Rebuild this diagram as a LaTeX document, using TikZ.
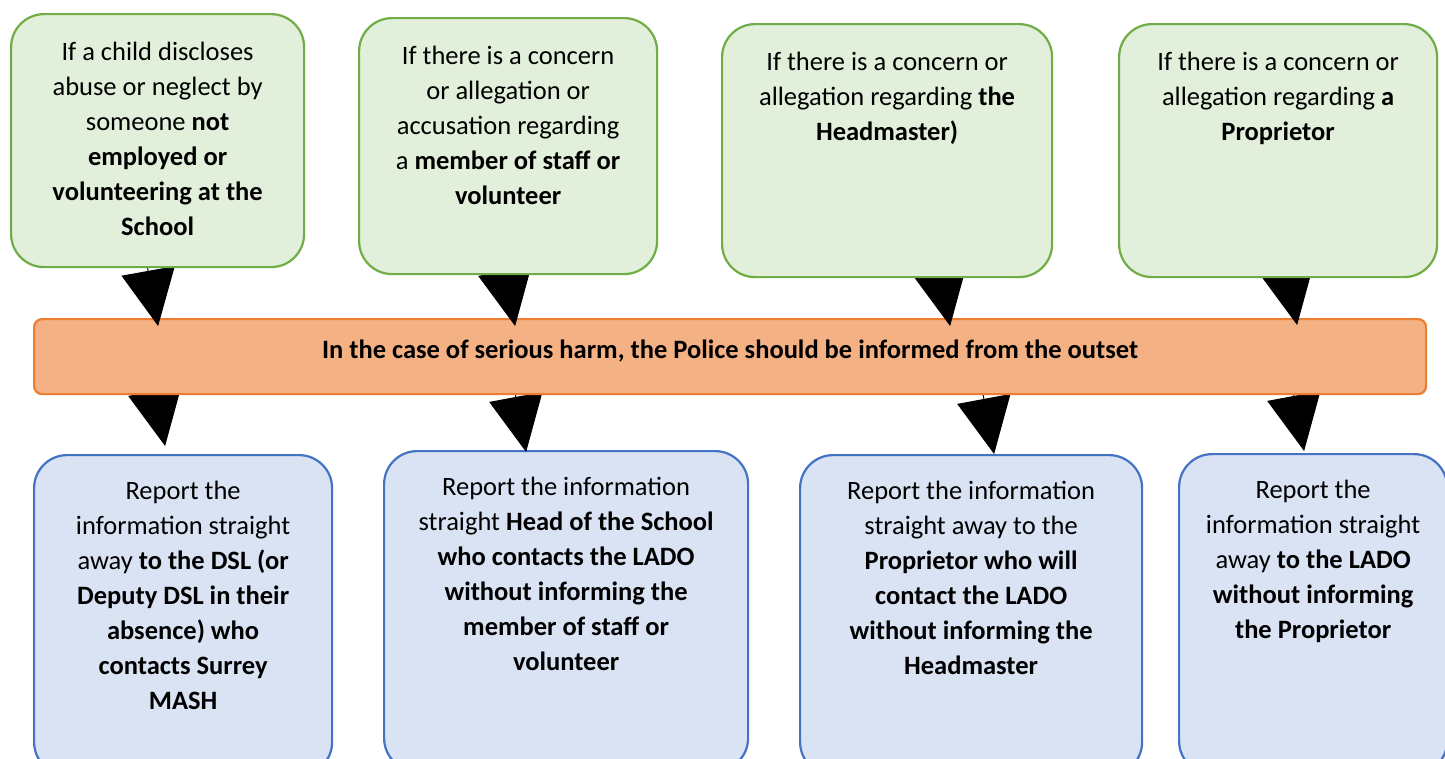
\documentclass[tikz,border=0pt]{standalone}
\usepackage{fontspec}
\setmainfont{Carlito}
\usetikzlibrary{arrows.meta,calc}

\definecolor{greenfill}{HTML}{E2EFDA}
\definecolor{greenline}{HTML}{70AD47}
\definecolor{bluefill}{HTML}{DAE3F3}
\definecolor{blueline}{HTML}{4472C4}
\definecolor{orangefill}{HTML}{F4B183}
\definecolor{orangeline}{HTML}{ED7D31}

\pgfdeclarelayer{blueboxes}
\pgfdeclarelayer{lowarrows}
\pgfdeclarelayer{uparrows}
\pgfdeclarelayer{greenboxes}
\pgfsetlayers{blueboxes,lowarrows,main,uparrows,greenboxes}

\newcommand{\boxfont}{\fontsize{26.5pt}{35pt}\selectfont}
\newcommand{\boxtext}[4]{\parbox[t][#2][t]{#1}{\centering\rule{0pt}{#3}#4}}

\tikzset{
  concern/.style={draw=greenline, fill=greenfill, line width=2.2pt, rounded corners=33pt, inner sep=0pt, anchor=north west},
  report/.style={draw=blueline, fill=bluefill, line width=2.2pt, rounded corners=33pt, inner sep=0pt, anchor=north west},
  police/.style={draw=orangeline, fill=orangefill, line width=2.2pt, rounded corners=8pt, anchor=north west, minimum width=1392pt, minimum height=75pt, text height=20pt, text depth=17pt, font=\boxfont\bfseries},
  pointer/.style={line width=1pt, -{Triangle[length=56pt,width=54pt]}}
}

\begin{document}
\begin{tikzpicture}[x=1pt,y=-1pt,font=\boxfont]
\useasboundingbox (0,0) rectangle (1445,758);

% top row
\begin{pgfonlayer}{greenboxes}
\node[concern] (child) at (10,13) {\boxtext{293pt}{253pt}{46pt}{If a child discloses\\ abuse or neglect by\\ someone \textbf{not}\\ \textbf{employed or}\\ \textbf{volunteering at the}\\ \textbf{School}}};
\node[concern] (staff) at (358,17) {\boxtext{298pt}{256pt}{46pt}{If there is a concern\\ or allegation or\\ accusation regarding\\ a \textbf{member of staff or}\\ \textbf{volunteer}}};
\node[concern] (headm) at (721,23) {\boxtext{330pt}{253pt}{46pt}{If there is a concern or\\ allegation regarding \textbf{the}\\ \textbf{Headmaster)}}};
\node[concern] (propr) at (1118,23) {\boxtext{318pt}{253pt}{46pt}{If there is a concern or\\ allegation regarding \textbf{a}\\ \textbf{Proprietor}}};
\end{pgfonlayer}

\node[police] (police) at (33,318) {In the case of serious harm, the Police should be informed from the outset};

% bottom row
\begin{pgfonlayer}{blueboxes}
\node[report] (toDSL) at (33,454) {\boxtext{298pt}{320pt}{44pt}{Report the\\ information straight\\ away \textbf{to the DSL (or}\\ \textbf{Deputy DSL in their}\\ \textbf{absence) who}\\ \textbf{contacts Surrey}\\ \textbf{MASH}}};
\node[report] (toHead) at (383,450) {\boxtext{364pt}{320pt}{44pt}{Report the information\\ straight \textbf{Head of the School}\\ \textbf{who contacts the LADO}\\ \textbf{without informing the}\\ \textbf{member of staff or}\\ \textbf{volunteer}}};
\node[report] (toPropr) at (799,454) {\boxtext{342pt}{320pt}{44pt}{Report the information\\ straight away to the\\ \textbf{Proprietor who will}\\ \textbf{contact the LADO}\\ \textbf{without informing the}\\ \textbf{Headmaster}}};
\node[report] (toLADO) at (1178,453) {\boxtext{268pt}{320pt}{44pt}{Report the\\ information straight\\ away \textbf{to the LADO}\\ \textbf{without informing}\\ \textbf{the Proprietor}}};
\end{pgfonlayer}

% arrows into the bar
\begin{pgfonlayer}{uparrows}
\draw[pointer] ($(child.south)+(-15,-28)$) -- ($(child.south |- police.north)+(0.5,8)$);
\draw[pointer] ($(staff.south)+(-9,-35)$) -- ($(staff.south |- police.north)+(7,8)$);
\draw[pointer] ($(headm.south)+(47,-38)$) -- ($(headm.south |- police.north)+(63,8)$);
\draw[pointer] ($(propr.south)+(3,-39)$) -- ($(propr.south |- police.north)+(19,7)$);
\end{pgfonlayer}

% arrows out of the bar
\begin{pgfonlayer}{lowarrows}
\draw[pointer] ($(police.south -| toDSL.north)+(-34,-35)$) -- ($(toDSL.north)+(-18,-8)$);
\draw[pointer] ($(police.south -| toHead.north)+(-56,-29)$) -- ($(toHead.north)+(-40,2)$);
\draw[pointer] ($(police.south -| toPropr.north)+(7,-27)$) -- ($(toPropr.north)+(23,0)$);
\draw[pointer] ($(police.south -| toLADO.north)+(-25,-30)$) -- ($(toLADO.north)+(-9,-2)$);
\end{pgfonlayer}
\end{tikzpicture}
\end{document}
